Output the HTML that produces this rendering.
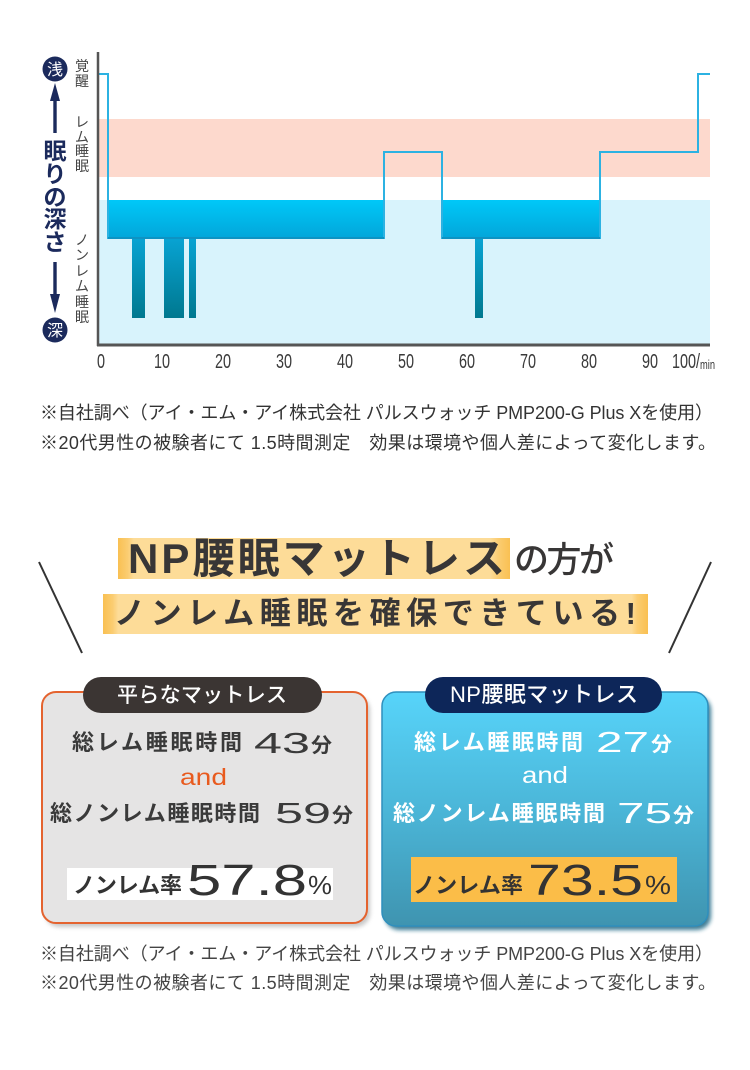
<!DOCTYPE html>
<html><head><meta charset="utf-8"><style>
html,body{margin:0;padding:0;background:#fff;}
svg{display:block;}
text{font-family:"Liberation Sans","Noto Sans CJK JP",sans-serif;}
</style></head><body>
<svg width="750" height="1070" viewBox="0 0 750 1070" xmlns="http://www.w3.org/2000/svg">
<defs>
<linearGradient id="band" x1="0" y1="0" x2="0" y2="1"><stop offset="0" stop-color="#00c8f8"/><stop offset="1" stop-color="#02a6da"/></linearGradient>
<linearGradient id="dip" x1="0" y1="0" x2="0" y2="1"><stop offset="0" stop-color="#08a3d3"/><stop offset="1" stop-color="#00788f"/></linearGradient>
<linearGradient id="hl1" x1="0" y1="0" x2="1" y2="0"><stop offset="0" stop-color="#f9c052"/><stop offset="0.025" stop-color="#fbcd72"/><stop offset="0.04" stop-color="#fddc98"/><stop offset="0.95" stop-color="#fddc98"/><stop offset="0.97" stop-color="#fbcd72"/><stop offset="1" stop-color="#f9c052"/></linearGradient>
<linearGradient id="hl2" x1="0" y1="0" x2="1" y2="0"><stop offset="0" stop-color="#f9c052"/><stop offset="0.018" stop-color="#fbcd72"/><stop offset="0.028" stop-color="#fddc98"/><stop offset="0.97" stop-color="#fddc98"/><stop offset="0.98" stop-color="#fbcd72"/><stop offset="1" stop-color="#f9c052"/></linearGradient>
<linearGradient id="card2" x1="0" y1="0" x2="0" y2="1"><stop offset="0" stop-color="#57d4fa"/><stop offset="0.5" stop-color="#4bb6d8"/><stop offset="1" stop-color="#3f94b0"/></linearGradient>
<filter id="blur" x="-10%" y="-10%" width="120%" height="120%"><feGaussianBlur stdDeviation="2"/></filter>
</defs>

<!-- ============ CHART ============ -->
<rect x="98" y="119" width="612" height="58" fill="#fdd9cd"/>
<rect x="98" y="200" width="612" height="145" fill="#d8f3fc"/>
<rect x="108" y="200" width="276" height="38" fill="url(#band)"/>
<rect x="442" y="200" width="158" height="38" fill="url(#band)"/>
<rect x="132" y="238" width="13" height="80" fill="url(#dip)"/>
<rect x="164" y="238" width="20" height="80" fill="url(#dip)"/>
<rect x="189" y="238" width="7" height="80" fill="url(#dip)"/>
<rect x="475" y="238" width="8" height="80" fill="url(#dip)"/>
<polyline points="98,74 108,74 108,238 384,238 384,152 442,152 442,238 600,238 600,152 698,152 698,74 710,74" fill="none" stroke="#2cb2e2" stroke-width="2"/>
<line x1="108" y1="238" x2="384" y2="238" stroke="#0d93c3" stroke-width="2"/>
<line x1="442" y1="238" x2="600" y2="238" stroke="#0d93c3" stroke-width="2"/>
<line x1="98" y1="52" x2="98" y2="346" stroke="#555" stroke-width="2.5"/>
<line x1="97" y1="345" x2="710" y2="345" stroke="#555" stroke-width="3"/>

<g fill="#3a3a3a" font-size="20">
<text x="101" y="368" text-anchor="middle" textLength="8" lengthAdjust="spacingAndGlyphs">0</text>
<text x="162" y="368" text-anchor="middle" textLength="16" lengthAdjust="spacingAndGlyphs">10</text>
<text x="223" y="368" text-anchor="middle" textLength="16" lengthAdjust="spacingAndGlyphs">20</text>
<text x="284" y="368" text-anchor="middle" textLength="16" lengthAdjust="spacingAndGlyphs">30</text>
<text x="345" y="368" text-anchor="middle" textLength="16" lengthAdjust="spacingAndGlyphs">40</text>
<text x="406" y="368" text-anchor="middle" textLength="16" lengthAdjust="spacingAndGlyphs">50</text>
<text x="467" y="368" text-anchor="middle" textLength="16" lengthAdjust="spacingAndGlyphs">60</text>
<text x="528" y="368" text-anchor="middle" textLength="16" lengthAdjust="spacingAndGlyphs">70</text>
<text x="589" y="368" text-anchor="middle" textLength="16" lengthAdjust="spacingAndGlyphs">80</text>
<text x="650" y="368" text-anchor="middle" textLength="16" lengthAdjust="spacingAndGlyphs">90</text>
<text x="672" y="368" textLength="28" lengthAdjust="spacingAndGlyphs">100/</text>
<text x="700" y="369" font-size="13" textLength="15" lengthAdjust="spacingAndGlyphs">min</text>
</g>

<!-- left labels -->
<g fill="#444" font-size="14" text-anchor="middle">
<text x="82" y="71">覚</text><text x="82" y="86">醒</text>
<text x="82" y="127">レ</text><text x="82" y="142">ム</text><text x="82" y="156">睡</text><text x="82" y="171">眠</text>
<text x="82" y="245">ノ</text><text x="82" y="260">ン</text><text x="82" y="276">レ</text><text x="82" y="291">ム</text><text x="82" y="307">睡</text><text x="82" y="322">眠</text>
</g>
<circle cx="55" cy="69" r="12.5" fill="#1b2a5c"/>
<text x="55" y="75" font-size="16" fill="#fff" text-anchor="middle">浅</text>
<circle cx="55" cy="330" r="12.5" fill="#1b2a5c"/>
<text x="55" y="336" font-size="16" fill="#fff" text-anchor="middle">深</text>
<polygon points="55,83 50,101 60,101" fill="#1b2a5c"/>
<rect x="53.3" y="99" width="3.4" height="34" fill="#1b2a5c"/>
<rect x="53.3" y="262" width="3.4" height="34" fill="#1b2a5c"/>
<polygon points="50,294 60,294 55,313" fill="#1b2a5c"/>
<g fill="#1b2a5c" font-size="23" font-weight="700" text-anchor="middle">
<text x="55" y="159">眠</text><text x="55" y="182">り</text><text x="55" y="205">の</text><text x="55" y="227">深</text><text x="55" y="250">さ</text>
</g>

<!-- notes top -->
<g fill="#333" font-size="18">
<text x="40" y="419" textLength="673" lengthAdjust="spacing">※自社調べ（アイ・エム・アイ株式会社 パルスウォッチ PMP200-G Plus Xを使用）</text>
<text x="40" y="449" textLength="676" lengthAdjust="spacing">※20代男性の被験者にて 1.5時間測定　効果は環境や個人差によって変化します。</text>
</g>

<!-- ============ HEADLINE ============ -->
<line x1="39" y1="562" x2="82" y2="653" stroke="#333" stroke-width="2"/>
<line x1="711" y1="562" x2="669" y2="653" stroke="#333" stroke-width="2"/>
<rect x="118" y="538" width="392" height="41" fill="url(#hl1)"/>
<rect x="103" y="594" width="545" height="40" fill="url(#hl2)"/>
<text x="128" y="573" font-size="42" font-weight="700" fill="#383636" textLength="377" lengthAdjust="spacing">NP腰眠マットレス</text>
<text x="514" y="572" font-size="35" font-weight="500" fill="#383636" textLength="100" lengthAdjust="spacing">の方が</text>
<text x="114" y="624" font-size="31" font-weight="700" fill="#383636" textLength="522" lengthAdjust="spacing">ノンレム睡眠を確保できている!</text>

<!-- ============ LEFT CARD ============ -->
<rect x="45" y="696" width="325" height="231" rx="14" fill="#9a9a9a" opacity="0.55" filter="url(#blur)"/>
<rect x="42" y="692" width="325" height="231" rx="14" fill="#e5e4e4" stroke="#e4632f" stroke-width="2"/>
<rect x="83" y="677" width="239" height="36" rx="18" fill="#3b3533"/>
<text x="117" y="702" font-size="21" font-weight="500" fill="#fff" textLength="170" lengthAdjust="spacing">平らなマットレス</text>
<g fill="#3a3a3a">
<text x="72" y="750" font-size="22" font-weight="700" textLength="170" lengthAdjust="spacing">総レム睡眠時間</text>
<text x="254" y="753" font-size="29" textLength="56" lengthAdjust="spacingAndGlyphs">43</text>
<text x="311" y="752" font-size="20" font-weight="700" textLength="21" lengthAdjust="spacingAndGlyphs">分</text>
<text x="50" y="821" font-size="22" font-weight="700" textLength="210" lengthAdjust="spacing">総ノンレム睡眠時間</text>
<text x="275" y="823" font-size="29" textLength="56" lengthAdjust="spacingAndGlyphs">59</text>
<text x="332" y="822" font-size="20" font-weight="700" textLength="21" lengthAdjust="spacingAndGlyphs">分</text>
</g>
<text x="180" y="785" font-size="23" fill="#e85a1e" textLength="47" lengthAdjust="spacingAndGlyphs">and</text>
<rect x="67" y="868" width="266" height="32" fill="#ffffff"/>
<g fill="#333">
<text x="73" y="893" font-size="22" font-weight="700" textLength="109" lengthAdjust="spacing">ノンレム率</text>
<text x="187" y="895" font-size="44" textLength="120" lengthAdjust="spacingAndGlyphs">57.8</text>
<text x="308" y="894" font-size="26" textLength="24" lengthAdjust="spacingAndGlyphs">%</text>
</g>

<!-- ============ RIGHT CARD ============ -->
<rect x="385" y="696" width="326" height="234" rx="14" fill="#1b6683" opacity="0.85" filter="url(#blur)"/>
<rect x="382" y="692" width="326" height="234" rx="14" fill="url(#card2)" stroke="#2f8fbd" stroke-width="1.5"/>
<rect x="425" y="677" width="237" height="36" rx="18" fill="#0d2659"/>
<text x="450" y="702" font-size="22" font-weight="500" fill="#fff" textLength="188" lengthAdjust="spacing">NP腰眠マットレス</text>
<g fill="#fff">
<text x="414" y="750" font-size="22" font-weight="700" textLength="169" lengthAdjust="spacing">総レム睡眠時間</text>
<text x="596" y="752" font-size="29" textLength="53" lengthAdjust="spacingAndGlyphs">27</text>
<text x="651" y="751" font-size="20" font-weight="700" textLength="21" lengthAdjust="spacingAndGlyphs">分</text>
<text x="522" y="783" font-size="23" textLength="46" lengthAdjust="spacingAndGlyphs">and</text>
<text x="393" y="821" font-size="22" font-weight="700" textLength="212" lengthAdjust="spacing">総ノンレム睡眠時間</text>
<text x="617" y="823" font-size="29" textLength="55" lengthAdjust="spacingAndGlyphs">75</text>
<text x="673" y="822" font-size="20" font-weight="700" textLength="21" lengthAdjust="spacingAndGlyphs">分</text>
</g>
<rect x="411" y="857" width="266" height="45" fill="#fbbd48"/>
<g fill="#333">
<text x="413" y="893" font-size="22" font-weight="700" textLength="110" lengthAdjust="spacing">ノンレム率</text>
<text x="528" y="895" font-size="44" textLength="115" lengthAdjust="spacingAndGlyphs">73.5</text>
<text x="645" y="894" font-size="26" textLength="26" lengthAdjust="spacingAndGlyphs">%</text>
</g>

<!-- notes bottom -->
<g fill="#444" font-size="18">
<text x="40" y="960" textLength="673" lengthAdjust="spacing">※自社調べ（アイ・エム・アイ株式会社 パルスウォッチ PMP200-G Plus Xを使用）</text>
<text x="40" y="989" textLength="676" lengthAdjust="spacing">※20代男性の被験者にて 1.5時間測定　効果は環境や個人差によって変化します。</text>
</g>
</svg>
</body></html>
